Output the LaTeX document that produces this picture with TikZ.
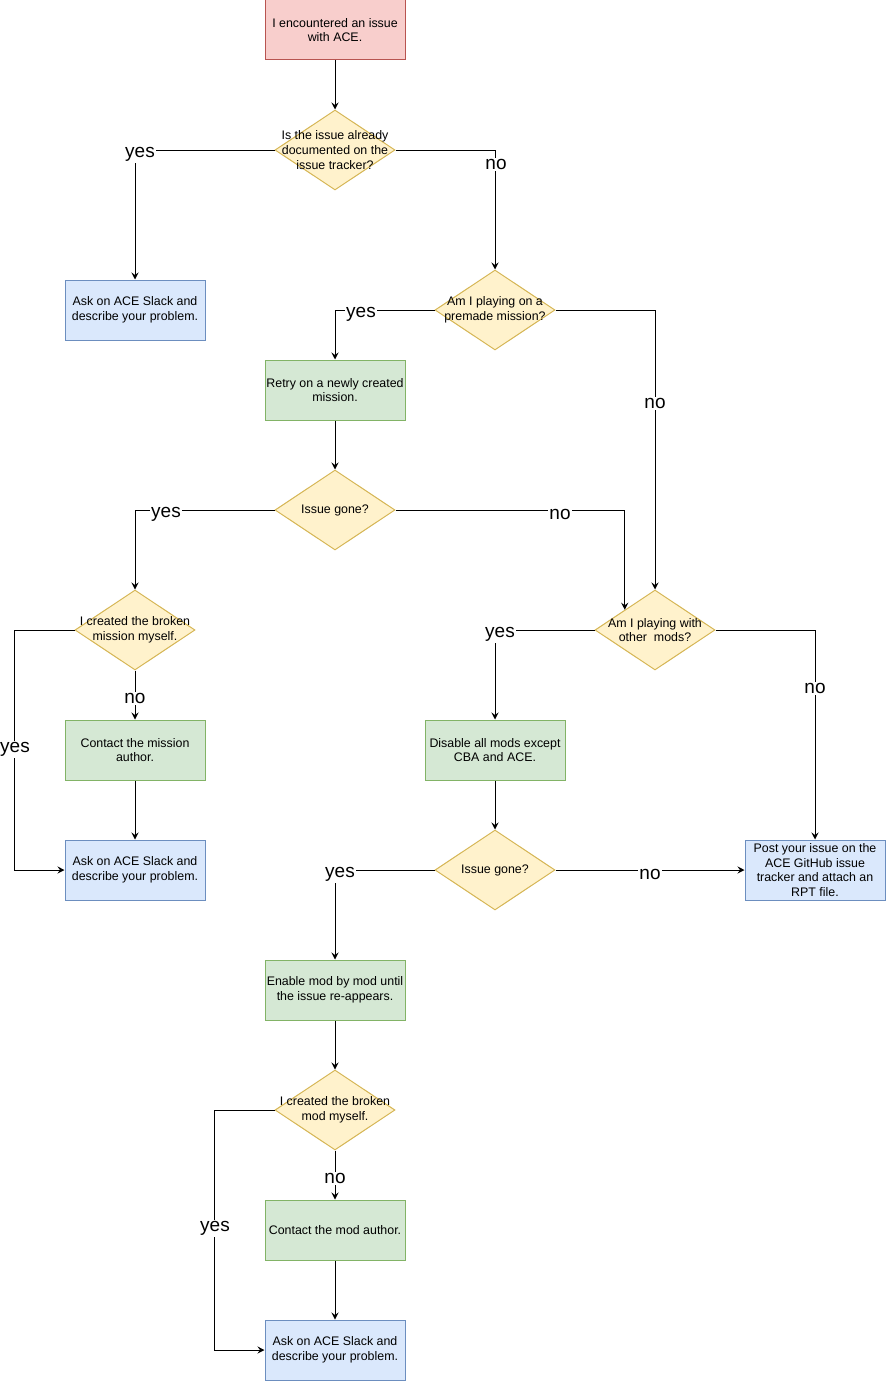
\documentclass[tikz,border=0pt]{standalone}
\usepackage{fontspec}
\setmainfont{Liberation Sans}
\usetikzlibrary{shapes.geometric,arrows.meta,calc}
\definecolor{redfill}{HTML}{F8CECC}
\definecolor{reddraw}{HTML}{B85450}
\definecolor{yelfill}{HTML}{FFF2CC}
\definecolor{yeldraw}{HTML}{D6B656}
\definecolor{bluefill}{HTML}{DAE8FC}
\definecolor{bluedraw}{HTML}{6C8EBF}
\definecolor{grnfill}{HTML}{D5E8D4}
\definecolor{grndraw}{HTML}{82B366}
\tikzset{
  box/.style={rectangle, minimum width=140, minimum height=60, inner sep=0, line width=1pt, align=center, font=\fontsize{12.4}{14.8}\selectfont},
  startbox/.style={box, draw=reddraw, fill=redfill},
  askbox/.style={box, draw=bluedraw, fill=bluefill},
  actbox/.style={box, draw=grndraw, fill=grnfill},
  dia/.style={diamond, draw=yeldraw, fill=yelfill, line width=1pt, minimum width=120, minimum height=80, inner sep=0},
  diatext/.style={align=center, inner sep=0, font=\fontsize{12.4}{14.8}\selectfont},
  arr/.style={draw=black, line width=1pt, -{Stealth[length=7pt,width=7pt,inset=2.5pt]}},
  lbl/.style={fill=white, inner sep=1pt, font=\fontsize{19}{21}\selectfont},
}
\begin{document}
\begin{tikzpicture}[x=1pt,y=-1pt]
\useasboundingbox (0,0) rectangle (886,1381);
% nodes
\node[startbox] (start) at (335,30) {I encountered an issue\\with ACE.};
\node[dia, label={[diatext]center:Is the issue already\\documented on the\\issue tracker?}] (d1) at (335,150) {};
\node[askbox] (ask1) at (135,310) {Ask on ACE Slack and\\describe your problem.};
\node[dia, label={[diatext]center:Am I playing on a\\premade mission?}] (d2) at (495,310) {};
\node[actbox] (retry) at (335,390) {Retry on a newly created\\mission.};
\node[dia, label={[diatext]center:Issue gone?}] (d3) at (335,510) {};
\node[dia, label={[diatext]center:I created the broken\\mission myself.}] (d4) at (135,630) {};
\node[dia, label={[diatext]center:Am I playing with\\other\ \ mods?}] (d5) at (655,630) {};
\node[actbox] (contact1) at (135,750) {Contact the mission\\author.};
\node[askbox] (ask2) at (135,870) {Ask on ACE Slack and\\describe your problem.};
\node[actbox] (disable) at (495,750) {Disable all mods except\\CBA and ACE.};
\node[dia, label={[diatext]center:Issue gone?}] (d6) at (495,870) {};
\node[askbox] (post) at (815,870) {Post your issue on the\\ACE GitHub issue\\tracker and attach an\\RPT file.};
\node[actbox] (enable) at (335,990) {Enable mod by mod until\\the issue re-appears.};
\node[dia, label={[diatext]center:I created the broken\\mod myself.}] (d7) at (335,1110) {};
\node[actbox] (contact2) at (335,1230) {Contact the mod author.};
\node[askbox] (ask3) at (335,1350) {Ask on ACE Slack and\\describe your problem.};
% edges
\draw[arr] (start.south) -- (d1.north);
\draw[arr] (d1.west) -| (ask1.north);
\draw[arr] (d1.east) -| (d2.north);
\draw[arr] (d2.west) -| (retry.north);
\draw[arr] (d2.east) -| (d5.north);
\draw[arr] (retry.south) -- (d3.north);
\draw[arr] (d3.west) -| (d4.north);
\coordinate (d5in) at ($(d5.north)!0.5!(d5.west)$);
\draw[arr] (d3.east) -| (d5in);
\draw[arr] (d4.west) -- ++(-60,0) |- (ask2.west);
\draw[arr] (d4.south) -- (contact1.north);
\draw[arr] (contact1.south) -- (ask2.north);
\draw[arr] (d5.west) -| (disable.north);
\draw[arr] (d5.east) -| (post.north);
\draw[arr] (disable.south) -- (d6.north);
\draw[arr] (d6.west) -| (enable.north);
\draw[arr] (d6.east) -- (post.west);
\draw[arr] (enable.south) -- (d7.north);
\draw[arr] (d7.west) -- ++(-60,0) |- (ask3.west);
\draw[arr] (d7.south) -- (contact2.north);
\draw[arr] (contact2.south) -- (ask3.north);
% labels
\tikzset{lbl/.append style={yshift=-2.5}}
\node[lbl] (l1y) at (140,152) {yes};
\node[lbl] (l1n) at (496,162) {no};
\node[lbl] (l2y) at (361,312) {yes};
\node[lbl] (l2n) at (655,401) {no};
\node[lbl] (l3y) at (166,512) {yes};
\node[lbl] (l3n) at (560,512) {no};
\node[lbl] (l4y) at (15,747) {yes};
\node[lbl] (l4n) at (135,696) {no};
\node[lbl] (l5y) at (500,632) {yes};
\node[lbl] (l5n) at (815,686) {no};
\node[lbl] (l6y) at (340,872) {yes};
\node[lbl] (l6n) at (650,872) {no};
\node[lbl] (l7y) at (215,1226) {yes};
\node[lbl] (l7n) at (335,1176) {no};
\end{tikzpicture}
\end{document}
